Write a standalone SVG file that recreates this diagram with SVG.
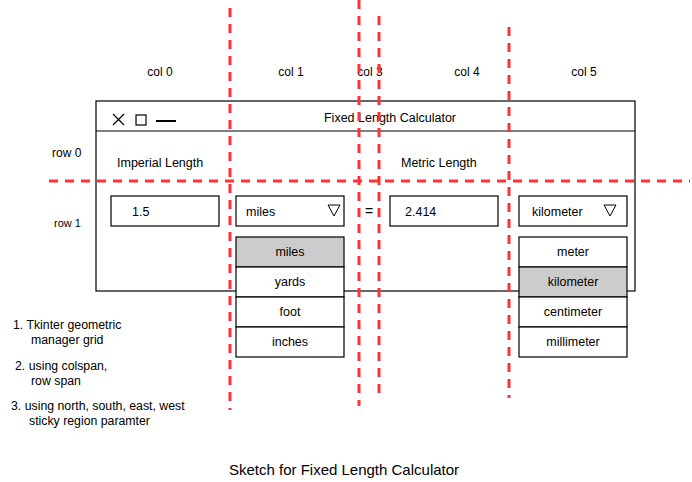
<svg xmlns="http://www.w3.org/2000/svg" width="692" height="482" viewBox="0 0 692 482">
<style>
text{font-family:"Liberation Sans","DejaVu Sans",sans-serif;font-size:12.5px;fill:#000}
.c{text-anchor:middle}
.box{fill:#fff;stroke:#000;stroke-width:1.2}
.sel{fill:#ccc;stroke:#000;stroke-width:1.2}
.grid{stroke:#ff3333;stroke-width:3;fill:none;stroke-dasharray:9 7}
.lbl{font-size:12px}
.n{font-size:12.3px}
</style>
<rect width="692" height="482" fill="#fff"/>
<g id="labels">
<text class="c lbl" x="160" y="76">col 0</text>
<text class="c lbl" x="291" y="76">col 1</text>
<text class="c lbl" x="370" y="76">col 3</text>
<text class="c lbl" x="467" y="76">col 4</text>
<text class="c lbl" x="584" y="76">col 5</text>
<text x="52" y="157" class="lbl">row 0</text>
<text x="54" y="227" style="font-size:11px">row 1</text>
</g>
<g id="window">
<rect class="box" x="96" y="101" width="539" height="190"/>
<line x1="96" y1="131" x2="635" y2="131" stroke="#000" stroke-width="1.2"/>
<path d="M113 114 L124 125 M124 114 L113 125" stroke="#000" stroke-width="1.2"/>
<rect x="136" y="115" width="10" height="10" fill="none" stroke="#000" stroke-width="1.2"/>
<line x1="156" y1="121" x2="176" y2="121" stroke="#000" stroke-width="2"/>
<text class="c" x="390" y="122">Fixed Length Calculator</text>
<text x="117" y="167">Imperial Length</text>
<text x="401" y="167">Metric Length</text>
</g>
<g id="input">
<rect class="box" x="111" y="196" width="108" height="30"/>
<text x="132" y="216">1.5</text>
</g>
<g id="imperial-combo">
<rect class="box" x="236" y="196" width="108" height="30"/>
<text x="246" y="216">miles</text>
<path d="M328 205 L340 205 L334 216 Z" fill="none" stroke="#000" stroke-width="1"/>
</g>
<g id="imperial-list">
<rect class="sel" x="236" y="237" width="108" height="30"/>
<rect class="box" x="236" y="267" width="108" height="30"/>
<rect class="box" x="236" y="297" width="108" height="30"/>
<rect class="box" x="236" y="327" width="108" height="30"/>
<text class="c" x="290" y="256">miles</text>
<text class="c" x="290" y="286">yards</text>
<text class="c" x="290" y="316">foot</text>
<text class="c" x="290" y="346">inches</text>
</g>
<g id="equals">
<text x="365" y="216" style="font-size:14px">=</text>
</g>
<g id="result">
<rect class="box" x="390" y="196" width="108" height="30"/>
<text x="405" y="216">2.414</text>
</g>
<g id="metric-combo">
<rect class="box" x="519" y="196" width="108" height="30"/>
<text x="532" y="216">kilometer</text>
<path d="M604 205 L616 205 L610 216 Z" fill="none" stroke="#000" stroke-width="1"/>
</g>
<g id="metric-list">
<rect class="box" x="519" y="237" width="108" height="30"/>
<rect class="sel" x="519" y="267" width="108" height="30"/>
<rect class="box" x="519" y="297" width="108" height="30"/>
<rect class="box" x="519" y="327" width="108" height="30"/>
<text class="c" x="573" y="256">meter</text>
<text class="c" x="573" y="286">kilometer</text>
<text class="c" x="573" y="316">centimeter</text>
<text class="c" x="573" y="346">millimeter</text>
</g>
<g id="connectors">
<line class="grid" x1="230" y1="8" x2="230" y2="410"/>
<line class="grid" x1="359" y1="0" x2="359" y2="406"/>
<line class="grid" x1="379" y1="16" x2="379" y2="400"/>
<line class="grid" x1="509" y1="27" x2="509" y2="398"/>
<line class="grid" x1="49" y1="181" x2="690" y2="181"/>
</g>
<g id="notes">
<text class="n" x="13" y="329">1. Tkinter geometric</text>
<text class="n" x="31" y="344">manager grid</text>
<text class="n" x="15" y="370">2. using colspan,</text>
<text class="n" x="31" y="385">row span</text>
<text class="n" x="11" y="410">3. using north, south, east, west</text>
<text class="n" x="29" y="425">sticky region paramter</text>
</g>
<g id="caption">
<text class="c" x="344" y="475" style="font-size:15px">Sketch for Fixed Length Calculator</text>
</g>
</svg>
